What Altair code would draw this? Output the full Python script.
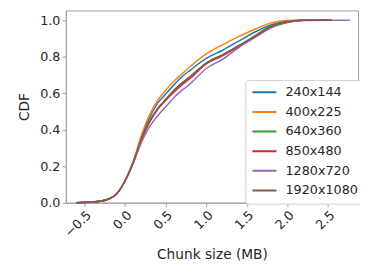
import altair as alt
import pandas as pd

series = ["240x144", "400x225", "640x360", "850x480", "1280x720", "1920x1080"]
colors = ["#1f77b4", "#ff7f0e", "#2ca02c", "#d62728", "#9467bd", "#8c564b"]

x_vals = [-0.6, -0.4, -0.2, -0.1, 0.0, 0.1, 0.2, 0.3, 0.4, 0.5, 0.6, 0.7, 0.8,
          1.0, 1.2, 1.4, 1.6, 1.8, 2.0, 2.2, 2.55]

cdf_240 = [0.0, 0.003, 0.02, 0.05, 0.12, 0.22, 0.355, 0.465, 0.545, 0.595, 0.645, 0.69, 0.725,
           0.79, 0.835, 0.885, 0.935, 0.975, 0.995, 1.0, 1.0]
cdf_400 = [0.0, 0.003, 0.02, 0.05, 0.12, 0.225, 0.37, 0.48, 0.56, 0.615, 0.665, 0.705, 0.745,
           0.815, 0.865, 0.91, 0.95, 0.985, 0.998, 1.0, 1.0]
cdf_640 = [0.0, 0.003, 0.02, 0.05, 0.12, 0.22, 0.345, 0.445, 0.515, 0.565, 0.615, 0.655, 0.69,
           0.765, 0.81, 0.86, 0.915, 0.97, 0.993, 1.0, 1.0]
cdf_850 = [0.0, 0.003, 0.02, 0.05, 0.12, 0.22, 0.34, 0.44, 0.51, 0.56, 0.605, 0.645, 0.68,
           0.76, 0.805, 0.855, 0.91, 0.963, 0.99, 0.999, 1.0]
cdf_1280 = [0.0, 0.003, 0.02, 0.05, 0.118, 0.215, 0.33, 0.415, 0.475, 0.525, 0.575, 0.615, 0.65,
            0.735, 0.785, 0.85, 0.905, 0.958, 0.987, 0.998, 1.0]
cdf_1920 = [0.0, 0.003, 0.02, 0.05, 0.12, 0.22, 0.345, 0.445, 0.515, 0.565, 0.615, 0.655, 0.69,
            0.765, 0.81, 0.86, 0.91, 0.965, 0.99, 0.999, 1.0]
extra_1280_x = [2.77]
extra_1280_y = [1.0]

rows = []
for name, ys in zip(series, [cdf_240, cdf_400, cdf_640, cdf_850, cdf_1280, cdf_1920]):
    xs = list(x_vals)
    yy = list(ys)
    if name == "1280x720":
        xs += extra_1280_x
        yy += extra_1280_y
    for order, (xv, yv) in enumerate(zip(xs, yy)):
        rows.append({"res": name, "x": xv, "y": yv, "o": order})
df = pd.DataFrame(rows)

axis_common = dict(
    domainColor="#a0a0a0", tickColor="#a0a0a0", grid=False,
    labelFont="DejaVu Sans", labelFontSize=13, labelColor="#262626",
    titleFont="DejaVu Sans", titleFontSize=14, titleFontWeight="normal", titleColor="#262626",
    tickSize=4,
)

chart = alt.Chart(df).mark_line(strokeWidth=1.5, interpolate="monotone").encode(
    x=alt.X("x:Q", scale=alt.Scale(domain=[-0.73, 2.87], nice=False, zero=False),
            axis=alt.Axis(title="Chunk size (MB)", values=[-0.5, 0, 0.5, 1.0, 1.5, 2.0, 2.5],
                          format=".1f", labelAngle=-45, labelAlign="right", labelBaseline="top",
                          labelPadding=2, titlePadding=8, **axis_common)),
    y=alt.Y("y:Q", scale=alt.Scale(domain=[0, 1.053], nice=False),
            axis=alt.Axis(title="CDF", values=[0, 0.2, 0.4, 0.6, 0.8, 1.0], format=".1f",
                          titlePadding=8, **axis_common)),
    color=alt.Color("res:N", scale=alt.Scale(domain=series, range=colors),
                    legend=alt.Legend(title=None, orient="none", legendX=183, legendY=71,
                                      symbolType="stroke", symbolSize=600, symbolStrokeWidth=2,
                                      labelFont="DejaVu Sans", labelFontSize=13, labelColor="#262626",
                                      clipHeight=13, rowPadding=6, padding=6, strokeColor="#d0d0d0",
                                      fillColor="white", cornerRadius=3, labelOffset=8)),
    order="o:Q",
).properties(
    width=298, height=196,
    padding={"left": 59, "top": 0, "right": 2, "bottom": 58},
    autosize=alt.AutoSizeParams(type="none"),
).configure_view(stroke="#a0a0a0", strokeWidth=1)

chart.save("out.html", embed_options={"renderer": "svg", "actions": False})
